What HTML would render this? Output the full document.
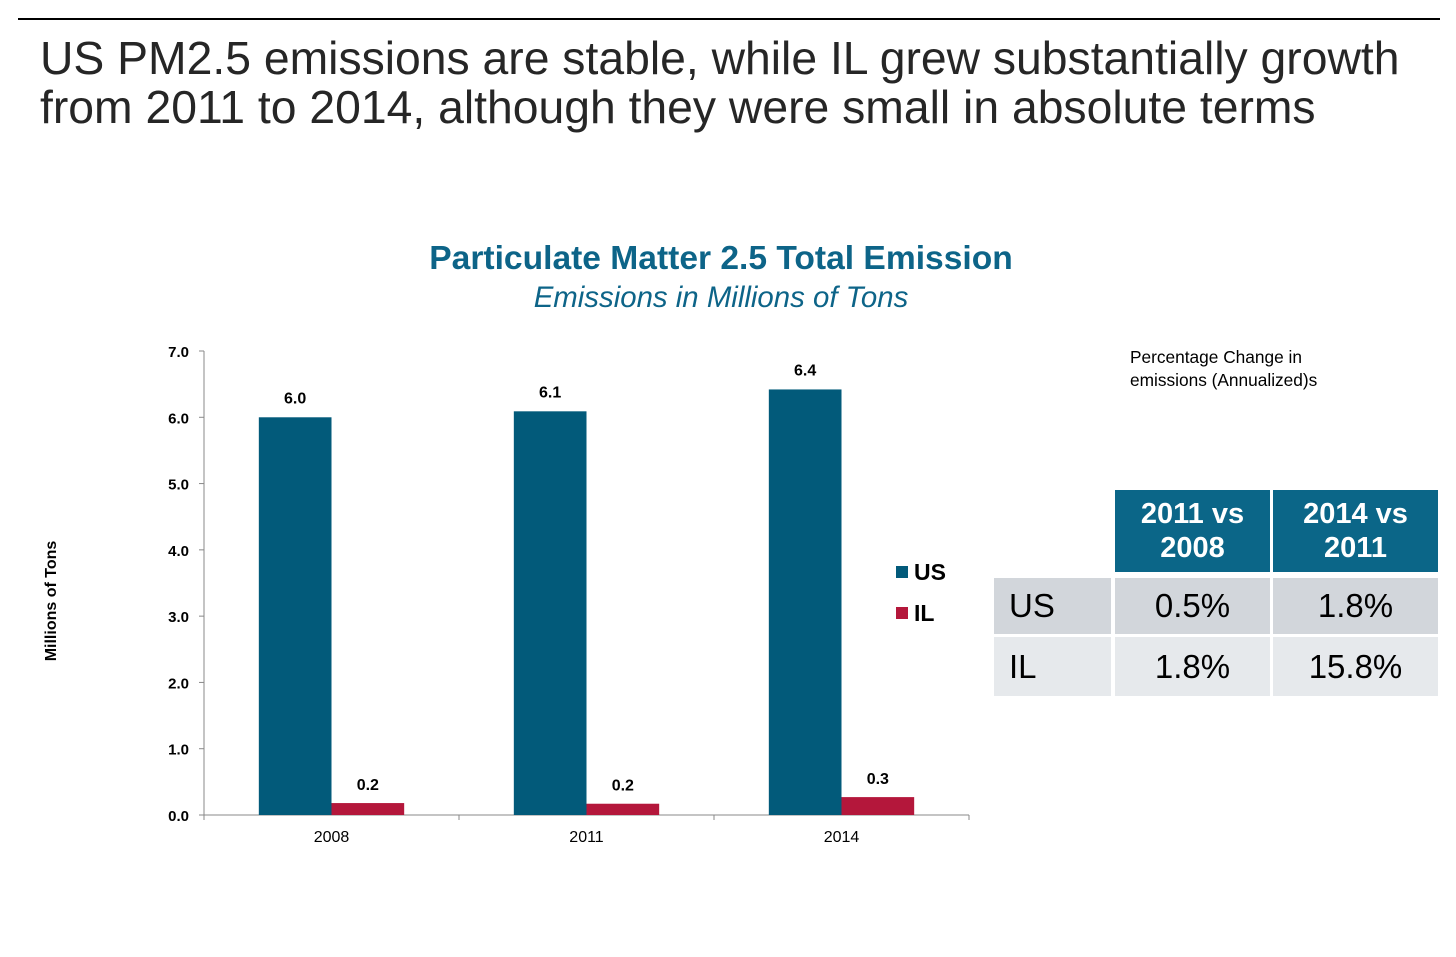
<!DOCTYPE html>
<html><head><meta charset="utf-8"><style>
body{margin:0;width:1456px;height:957px;background:#fff;font-family:"Liberation Sans",sans-serif;position:relative;overflow:hidden}
.abs{position:absolute}
</style></head><body>
<div class="abs" style="left:18px;top:18px;width:1422px;height:2px;background:#000"></div>
<div class="abs" style="left:40px;top:34px;font-size:46.3px;line-height:49px;color:#262626;white-space:nowrap">US PM2.5 emissions are stable, while IL grew substantially growth<br>from 2011 to 2014, although they were small in absolute terms</div>
<div class="abs" style="left:0;width:1442px;top:240px;text-align:center;font-size:33.6px;font-weight:bold;color:#0d6488">Particulate Matter 2.5 Total Emission</div>
<div class="abs" style="left:0;width:1442px;top:281px;text-align:center;font-size:29.4px;font-style:italic;color:#0d6488">Emissions in Millions of Tons</div>
<svg class="abs" style="left:0;top:0" width="1456" height="957" id="chart"></svg>
<div class="abs" style="left:1130px;top:346px;font-size:17.3px;line-height:23px;color:#000">Percentage Change in<br>emissions (Annualized)s</div>
<div class="abs" style="left:1115px;top:490px;width:155px;height:82px;background:#0b6688;color:#fff;font-weight:bold;font-size:29px;line-height:34px;text-align:center;display:flex;align-items:center;justify-content:center">2011 vs<br>2008</div>
<div class="abs" style="left:1273px;top:490px;width:165px;height:82px;background:#0b6688;color:#fff;font-weight:bold;font-size:29px;line-height:34px;text-align:center;display:flex;align-items:center;justify-content:center">2014 vs<br>2011</div>
<div class="abs" style="left:994px;top:578px;width:117px;height:56px;background:#d2d6db;font-size:33px;line-height:56px;box-sizing:border-box;padding-left:15px">US</div>
<div class="abs" style="left:1115px;top:578px;width:155px;height:56px;background:#d2d6db;font-size:33px;line-height:56px;text-align:center">0.5%</div>
<div class="abs" style="left:1273px;top:578px;width:165px;height:56px;background:#d2d6db;font-size:33px;line-height:56px;text-align:center">1.8%</div>
<div class="abs" style="left:994px;top:637px;width:117px;height:59px;background:#e6e9ec;font-size:33px;line-height:59px;box-sizing:border-box;padding-left:15px">IL</div>
<div class="abs" style="left:1115px;top:637px;width:155px;height:59px;background:#e6e9ec;font-size:33px;line-height:59px;text-align:center">1.8%</div>
<div class="abs" style="left:1273px;top:637px;width:165px;height:59px;background:#e6e9ec;font-size:33px;line-height:59px;text-align:center">15.8%</div>
<script>
const categories=["2008","2011","2014"];
const usValues=[6.0,6.09,6.42];
const ilValues=[0.18,0.17,0.27];
const usLabels=["6.0","6.1","6.4"];
const ilLabels=["0.2","0.2","0.3"];
const yTicks=[0,1,2,3,4,5,6,7];
const svg=document.getElementById('chart');
const NS='http://www.w3.org/2000/svg';
const x0=204,x1=969,y0=815,yTop=351,yMax=7;
const y=v=>y0-(v/yMax)*(y0-yTop);
const band=(x1-x0)/categories.length;
function mk(t,a,txt){const e=document.createElementNS(NS,t);for(const k in a)e.setAttribute(k,a[k]);if(txt!==undefined)e.textContent=txt;svg.appendChild(e);return e;}
let e=mk('line',{x1:x0,y1:yTop,x2:x0,y2:y0,stroke:'#888'});


e=mk('line',{x1:x0,y1:y0,x2:x1,y2:y0,stroke:'#888'});


yTicks.forEach(t=>{
 e=mk('line',{x1:x0-5,y1:y(t),x2:x0,y2:y(t),stroke:'#888'});
 
 
 e=mk('text',{x:189,y:y(t)+6,'text-anchor':'end','font-size':15,'font-weight':'bold','font-family':'Liberation Sans'},t.toFixed(1));
 
 
});
for(let i=0;i<=categories.length;i++){
 e=mk('line',{x1:x0+i*band,y1:y0,x2:x0+i*band,y2:y0+5,stroke:'#888'});
 
 
}
categories.forEach((c,i)=>{
 const cx=x0+band*(i+0.5);
 const bw=band*0.285;
 e=mk('rect',{x:cx-bw,y:y(usValues[i]),width:bw,height:y0-y(usValues[i]),fill:'#025a7a'});
 
 
 e=mk('rect',{x:cx,y:y(ilValues[i]),width:bw,height:y0-y(ilValues[i]),fill:'#b4173b'});
 
 
 e=mk('text',{x:cx-bw/2,y:y(usValues[i])-14,'text-anchor':'middle','font-size':16,'font-weight':'bold','font-family':'Liberation Sans'},usLabels[i]);
 
 
 e=mk('text',{x:cx+bw/2,y:y(ilValues[i])-13,'text-anchor':'middle','font-size':16,'font-weight':'bold','font-family':'Liberation Sans'},ilLabels[i]);
 
 
 e=mk('text',{x:cx,y:842,'text-anchor':'middle','font-size':16,'font-family':'Liberation Sans'},c);
 
 
});
e=mk('text',{x:56,y:601,'text-anchor':'middle','font-size':16,'font-weight':'bold','font-family':'Liberation Sans',transform:'rotate(-90 56 601)'},'Millions of Tons');


e=mk('rect',{x:896,y:566,width:12,height:12,fill:'#025a7a'});


e=mk('text',{x:914,y:580,'font-size':23,'font-weight':'bold','font-family':'Liberation Sans'},'US');


e=mk('rect',{x:896,y:607,width:12,height:12,fill:'#b4173b'});


e=mk('text',{x:914,y:621,'font-size':23,'font-weight':'bold','font-family':'Liberation Sans'},'IL');


</script>
</body></html>
